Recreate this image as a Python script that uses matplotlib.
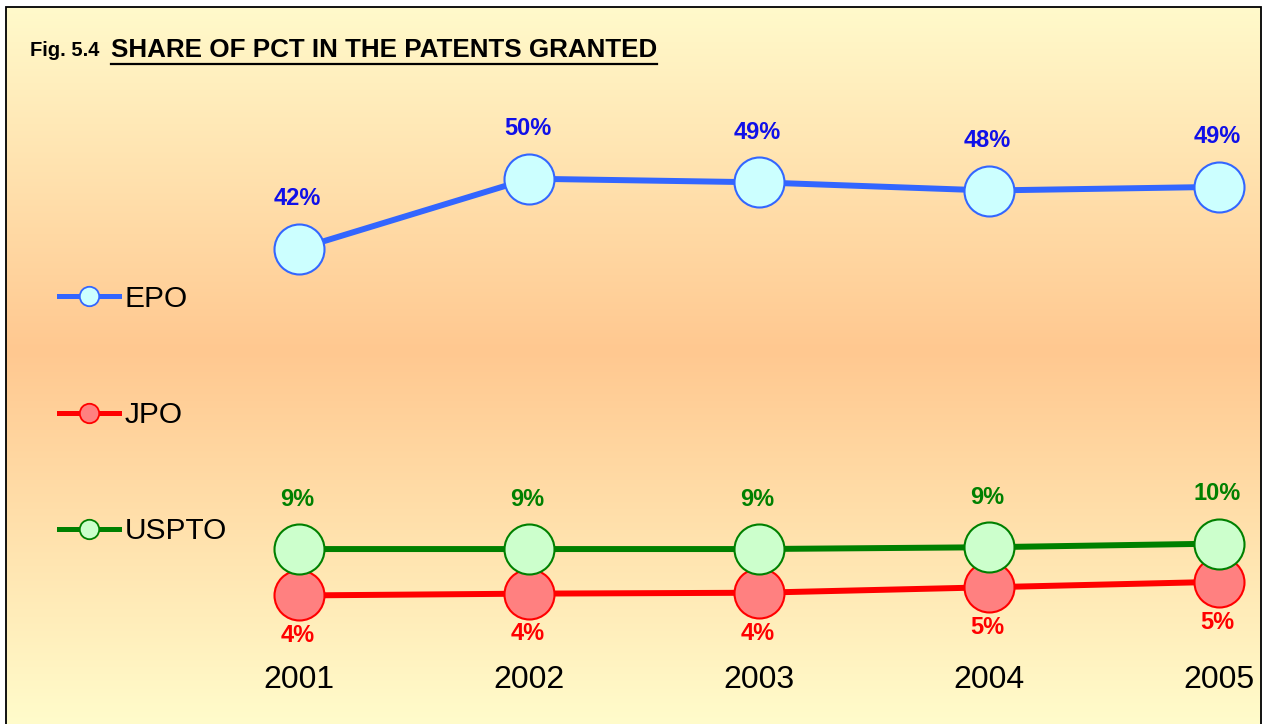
import numpy as np
import matplotlib
matplotlib.use('Agg')
import matplotlib.pyplot as plt
from matplotlib.patches import Rectangle
from matplotlib.lines import Line2D
from matplotlib.colors import to_rgb

years = [2001, 2002, 2003, 2004, 2005]
epo = [42.0, 49.7, 49.3, 48.4, 48.8]
jpo = [3.9, 4.1, 4.2, 4.8, 5.4]
uspto = [9.0, 9.0, 9.0, 9.2, 9.6]
series_names = ['EPO', 'JPO', 'USPTO']

W, H = 1264, 724
fig = plt.figure(figsize=(W / 100, H / 100), dpi=100)
fig.patch.set_facecolor('white')

# gradient background inside the frame
left, top, right = 6, 7, 1261
bg = fig.add_axes([left / W, 0, (right - left) / W, (H - top) / H])
bg.set_axis_off()
rows = np.arange(top, H)
c_top = np.array(to_rgb('#FFFACB'))
c_mid = np.array(to_rgb('#FFC890'))
c_bot = np.array(to_rgb('#FFFCCB'))
peak = 350
t = np.where(rows < peak, (rows - top) / (peak - top), 1 - (rows - peak) / (H - peak))
t = t[:, None]
c_end = np.where(rows[:, None] < peak, c_top, c_bot)
grad = c_end * (1 - t) + c_mid * t
bg.imshow(grad[:, None, :], aspect='auto', extent=[0, 1, 0, 1])
bg.set_xlim(0, 1)
bg.set_ylim(0, 1)

fig.patches.append(Rectangle((left / W, -0.01), (right - left) / W, (H - top) / H + 0.01,
                             transform=fig.transFigure, fill=False, edgecolor='black',
                             linewidth=1.3, zorder=10))

# main axes covering whole figure, scaled so points land where they should
ax = fig.add_axes([0, 0, 1, 1])
ax.patch.set_alpha(0)
ax.set_axis_off()
px_year = 230.0
x0 = 2001 - 299 / px_year
ax.set_xlim(x0, x0 + W / px_year)
px_pct = 9.1
y_top = 4.5 + 590 / px_pct
ax.set_ylim(y_top - H / px_pct, y_top)

styles = {
    'EPO': dict(line='#3366FF', face='#CCFFFF', text='#1010E8', off=36),
    'JPO': dict(line='#FF0000', face='#FF8080', text='#FF0000', off=-29),
    'USPTO': dict(line='#008000', face='#CCFFCC', text='#008000', off=36),
}
data = {'EPO': epo, 'JPO': jpo, 'USPTO': uspto}

handles = []
for name in series_names:
    s = styles[name]
    vals = data[name]
    ax.plot(years, vals, color=s['line'], lw=4.3, marker='o', ms=36,
            mfc=s['face'], mec=s['line'], mew=1.5, solid_capstyle='butt')
    for x, v in zip(years, vals):
        ax.annotate('%d%%' % round(v), (x, v), xytext=(-1, s['off']),
                    textcoords='offset points', ha='center', va='center',
                    fontsize=17, fontweight='bold', color=s['text'],
                    family='Liberation Sans')
    handles.append(Line2D([], [], color=s['line'], lw=3.6, marker='o', ms=14,
                          mfc=s['face'], mec=s['line'], mew=1.3))

for x in years:
    ax.text(x, 1 - 680 / H, str(x), transform=ax.get_xaxis_transform(),
            ha='center', va='center', fontsize=23, family='Liberation Sans')

fig.legend(handles, series_names, loc='upper left', bbox_to_anchor=(32 / W, 1 - 258 / H),
           frameon=False, numpoints=1, handlelength=2.0, handletextpad=0.2,
           labelspacing=2.95, prop={'family': 'Liberation Sans', 'size': 21.5})

# title
t1 = fig.text(30 / W, 1 - 50 / H, 'Fig. 5.4', ha='left', va='center', fontsize=14.5,
              fontweight='bold', family='Liberation Sans')
t2 = fig.text(111 / W, 1 - 50 / H, 'SHARE OF PCT IN THE PATENTS GRANTED', ha='left',
              va='center', fontsize=18.7, fontweight='bold', family='Liberation Sans')
fig.canvas.draw()
bb = t2.get_window_extent()
uy = (1 - 64 / H)
fig.lines.append(Line2D([bb.x0 / W, bb.x1 / W], [uy, uy], transform=fig.transFigure,
                        color='black', lw=1.6))

fig.savefig('out.png', dpi=100)
